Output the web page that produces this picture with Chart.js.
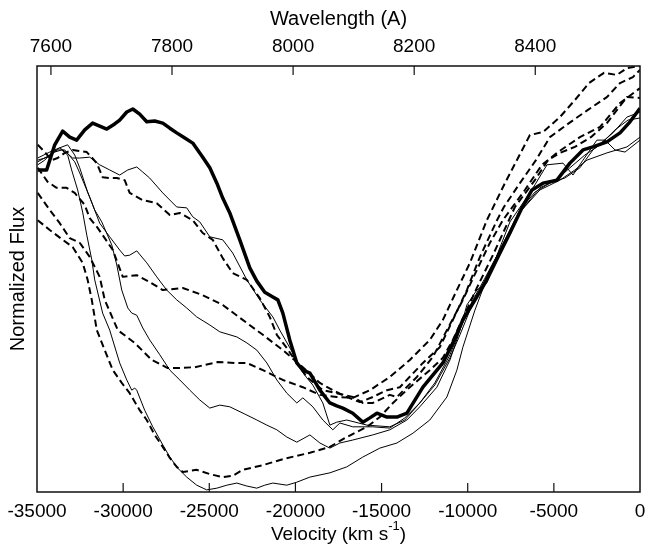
<!DOCTYPE html>
<html>
<head>
<meta charset="utf-8">
<title>Normalized Flux vs Velocity</title>
<script src="https://cdn.jsdelivr.net/npm/chart.js@4.4.1/dist/chart.umd.min.js"></script>
<style>
  html, body { margin: 0; padding: 0; background: #fff; }
  canvas { display: block; }
</style>
</head>
<body>
<canvas id="fluxChart" width="647" height="552"></canvas>
<script>
// tick values of the bottom (velocity) and top (wavelength) axes
const velocityTicks = [-35000, -30000, -25000, -20000, -15000, -10000, -5000, 0];
const wavelengthTicks = [7600, 7800, 8000, 8200, 8400];
// wavelength span that lines up with -35000 .. 0 km/s
const wavelengthRange = [7577, 8573];

// spectra: [velocity (km/s), normalized flux]
const thickSpectrum = [
  [-34960,.756],[-34440,.756],[-33970,.815],[-33510,.847],[-33100,.833],[-32700,.826],[-32230,.850],[-31770,.866],
  [-31360,.859],[-30950,.852],[-30490,.864],[-30200,.873],[-29790,.892],[-29440,.899],[-29040,.887],[-28630,.869],
  [-28170,.871],[-27700,.866],[-27290,.854],[-26890,.843],[-26420,.831],[-25960,.819],[-25380,.786],[-24970,.761],
  [-24560,.725],[-24220,.690],[-23810,.655],[-23230,.592],[-22650,.526],[-22240,.495],[-21780,.469],[-21310,.458],
  [-21020,.451],[-20730,.420],[-20330,.357],[-19920,.303],[-19570,.286],[-19160,.279],[-18580,.239],[-18000,.209],
  [-17600,.202],[-17250,.197],[-16670,.185],[-16090,.164],[-15680,.174],[-15270,.185],[-14690,.176],[-14110,.176],
  [-13530,.185],[-12600,.246],[-11440,.303],[-10860,.350],[-10280,.404],[-9470,.458],[-8890,.498],[-8130,.561],
  [-7550,.608],[-6850,.667],[-6270,.709],[-5630,.725],[-4820,.732],[-4070,.772],[-3310,.803],[-2730,.810],
  [-1920,.822],[-1160,.843],[-580,.869],[0,.901]
];
const thinSpectrumA = [
  [-34960,.768],[-34550,.779],[-34150,.796],[-33680,.808],[-33280,.796],[-32930,.784],[-32520,.784],[-31940,.786],
  [-31360,.768],[-30780,.756],[-30200,.744],[-29730,.756],[-29210,.763],[-28860,.751],[-28460,.737],[-27700,.702],
  [-26890,.669],[-26310,.667],[-25960,.646],[-25550,.634],[-24970,.599],[-24220,.592],[-23640,.561],[-22820,.498],
  [-22070,.451],[-21310,.411],[-20910,.380],[-20150,.326],[-19750,.291],[-19340,.268],[-18990,.251],[-18410,.209],
  [-18000,.157],[-17600,.164],[-17020,.169],[-15850,.157],[-14520,.153],[-13650,.169],[-12780,.209],[-11910,.256],
  [-11030,.322],[-10340,.392],[-9760,.446],[-9000,.502],[-8130,.568],[-6970,.662],[-6100,.704],[-5230,.725],
  [-4360,.737],[-3490,.761],[-2730,.803],[-1570,.843],[-760,.880],[0,.892]
];
const thinSpectrumB = [
  [-34960,.775],[-34260,.791],[-33800,.803],[-33390,.803],[-32810,.775],[-32520,.749],[-31940,.692],[-31360,.631],
  [-30780,.599],[-30200,.568],[-29910,.554],[-29620,.556],[-29210,.566],[-28630,.538],[-28050,.505],[-27470,.474],
  [-26890,.451],[-26310,.432],[-25730,.411],[-24970,.392],[-24390,.376],[-23400,.364],[-22820,.350],[-22240,.333],
  [-21660,.303],[-21080,.263],[-20500,.232],[-19920,.209],[-19570,.221],[-18990,.200],[-18410,.169],[-17830,.146],
  [-17420,.162],[-16670,.153],[-15510,.153],[-14520,.150],[-13650,.174],[-12780,.209],[-11910,.251],[-11030,.315],
  [-10450,.369],[-9870,.427],[-9290,.474],[-8710,.521],[-8130,.568],[-6970,.657],[-5810,.714],[-4880,.732],
  [-4070,.761],[-3200,.791],[-2320,.815],[-1450,.850],[-700,.873],[0,.878]
];
const thinSpectrumC = [
  [-34960,.784],[-34260,.798],[-33680,.808],[-33220,.815],[-32810,.791],[-32520,.761],[-32060,.704],[-31650,.662],
  [-31240,.634],[-30660,.580],[-30370,.533],[-30080,.474],[-29730,.432],[-29500,.420],[-29210,.415],[-28860,.385],
  [-28460,.357],[-27870,.322],[-27290,.286],[-26710,.263],[-26130,.239],[-25550,.216],[-24970,.197],[-24390,.204],
  [-23810,.200],[-22940,.183],[-22240,.169],[-21660,.157],[-21080,.146],[-20500,.129],[-19920,.117],[-19160,.134],
  [-18580,.115],[-18000,.103],[-17420,.115],[-16670,.122],[-15510,.134],[-14520,.146],[-13530,.169],[-12780,.200],
  [-11790,.246],[-11030,.310],[-10450,.380],[-10050,.439],[-9470,.474],[-8890,.491],[-8300,.556],[-7550,.634],
  [-6680,.685],[-6100,.721],[-5400,.768],[-4470,.772],[-3890,.744],[-3310,.779],[-2500,.826],[-2030,.826],
  [-1450,.803],[-870,.798],[0,.826]
];
const thinSpectrumD = [
  [-34960,.779],[-34380,.786],[-33970,.798],[-33570,.803],[-33220,.791],[-32990,.756],[-32640,.709],[-32350,.657],
  [-32110,.603],[-31820,.545],[-31650,.498],[-31190,.420],[-30780,.380],[-30200,.303],[-29790,.263],[-29500,.239],
  [-29330,.244],[-29210,.239],[-28750,.192],[-28280,.153],[-27760,.115],[-27290,.082],[-26830,.056],[-26310,.035],
  [-25730,.016],[-25150,.005],[-24560,.009],[-23980,.016],[-23400,.021],[-22820,.014],[-22240,.009],[-21780,.016],
  [-21310,.021],[-20500,.016],[-19920,.023],[-19160,.035],[-18000,.045],[-17020,.059],[-16090,.082],[-15100,.103],
  [-14110,.115],[-13180,.138],[-12200,.169],[-11210,.223],[-10630,.286],[-10280,.340],[-9580,.427],[-8710,.521],
  [-7840,.592],[-6970,.657],[-5810,.709],[-4650,.732],[-3780,.756],[-3080,.779],[-1920,.796],[-760,.810],[0,.833]
];
const dashedSpectrumA = [
  [-34960,.638],[-34260,.615],[-33510,.592],[-32930,.575],[-32350,.538],[-32060,.498],[-31820,.451],[-31530,.380],
  [-31070,.333],[-30600,.286],[-30080,.256],[-29620,.232],[-29040,.192],[-28630,.169],[-28170,.134],[-27700,.106],
  [-27290,.080],[-26890,.059],[-26540,.047],[-25730,.052],[-24970,.042],[-24220,.035],[-23640,.038],[-23060,.052],
  [-21890,.063],[-20730,.077],[-19920,.085],[-19160,.092],[-18000,.106],[-17020,.129],[-15850,.153],[-15100,.176],
  [-14340,.209],[-13360,.246],[-12200,.286],[-11440,.315],[-10860,.357],[-10280,.408],[-9470,.479],[-8540,.556],
  [-7260,.669],[-6100,.732],[-5340,.779],[-4650,.796],[-3780,.810],[-2850,.833],[-1920,.866],[-760,.927],[0,.925]
];
const dashedSpectrumB = [
  [-34960,.702],[-34260,.662],[-33680,.631],[-33100,.596],[-32520,.585],[-31940,.552],[-31360,.505],[-31070,.451],
  [-30310,.380],[-29330,.350],[-28340,.310],[-27410,.291],[-26830,.291],[-25840,.293],[-24510,.305],[-23520,.303],
  [-22820,.303],[-21890,.286],[-20730,.263],[-19570,.246],[-18580,.228],[-17600,.223],[-16670,.221],[-15680,.239],
  [-14520,.270],[-13360,.310],[-12200,.357],[-11440,.404],[-10630,.474],[-9870,.538],[-8890,.638],[-7840,.725],
  [-6390,.838],[-5630,.845],[-4650,.880],[-3780,.920],[-2960,.960],[-2090,.984],[-1340,.979],[-760,.995],[0,1.0]
];
const dashedSpectrumC = [
  [-34960,.761],[-34380,.728],[-33860,.714],[-33280,.714],[-32810,.702],[-32230,.674],[-31940,.643],[-31480,.620],
  [-31070,.596],[-30600,.568],[-30020,.505],[-29210,.509],[-28460,.493],[-27700,.474],[-26540,.479],[-25380,.462],
  [-24220,.439],[-23060,.404],[-21890,.369],[-20730,.333],[-19570,.293],[-18580,.256],[-17830,.239],[-17020,.223],
  [-16260,.211],[-15510,.223],[-14690,.239],[-13940,.246],[-12600,.303],[-11620,.340],[-10860,.404],[-10050,.474],
  [-9290,.552],[-8300,.638],[-7900,.669],[-6970,.725],[-6040,.779],[-5230,.833],[-4120,.866],[-3020,.897],
  [-1920,.927],[-1160,.960],[-410,.974],[0,.991]
];
const dashedSpectrumD = [
  [-34960,.815],[-34550,.798],[-34150,.779],[-33800,.784],[-33390,.796],[-32930,.803],[-32110,.798],[-31530,.772],
  [-31190,.739],[-30780,.737],[-30370,.737],[-29910,.732],[-29620,.702],[-28860,.685],[-28050,.678],[-27290,.650],
  [-26710,.655],[-25960,.638],[-25380,.608],[-24800,.592],[-24220,.549],[-23640,.514],[-22820,.498],[-22070,.455],
  [-21490,.411],[-21080,.369],[-20500,.338],[-19920,.303],[-19340,.270],[-18410,.239],[-17600,.232],[-16670,.223],
  [-16090,.209],[-15510,.209],[-14520,.228],[-14110,.223],[-12950,.270],[-12020,.317],[-11210,.380],[-10280,.451],
  [-9470,.521],[-8710,.585],[-7960,.638],[-6680,.709],[-5690,.768],[-4760,.798],[-3490,.833],[-2320,.857],
  [-1160,.913],[0,.948]
];

const fontFamily = '"Liberation Sans", Arial, Helvetica, sans-serif';

//turns a list of [velocity, flux] pairs into a chart.js dataset.
function spectrumDataset(points, width, dash) {
  return {
    data: points.map(p => ({ x: p[0], y: p[1] })),
    borderColor: '#000',
    borderWidth: width,
    borderDash: dash,
    borderJoinStyle: 'round',
    pointRadius: 0,
    tension: 0,
    fill: false
  };
}

//keeps the box of a horizontal axis at a fixed height and stops it from pushing the plot inwards.
function fixHorizontalAxis(height) {
  return scale => {
    scale.height = height;
    scale.paddingLeft = 0;
    scale.paddingRight = 0;
  };
}

//draws the box round the plot, the inward tick marks and the velocity title with its superscript.
const frameAndTicks = {
  id: 'frameAndTicks',
  afterDatasetsDraw(chart) {
    const { ctx, chartArea: area, scales } = chart;
    ctx.save();
    ctx.strokeStyle = '#111';
    ctx.lineWidth = 1.5;
    ctx.strokeRect(area.left, area.top, area.right - area.left, area.bottom - area.top);

    ctx.lineWidth = 1.2;
    ctx.beginPath();
    scales.x.ticks.forEach(tick => {
      const px = scales.x.getPixelForValue(tick.value);
      if (px <= area.left + 1 || px >= area.right - 1) return;
      ctx.moveTo(px, area.bottom);
      ctx.lineTo(px, area.bottom - 9);
    });
    scales.x2.ticks.forEach(tick => {
      const px = scales.x2.getPixelForValue(tick.value);
      if (px <= area.left + 1 || px >= area.right - 1) return;
      ctx.moveTo(px, area.top);
      ctx.lineTo(px, area.top + 9);
    });
    ctx.stroke();

    //bottom axis title, written in three pieces so the -1 sits raised
    const mainFont = '19px ' + fontFamily;
    const supFont = '13px ' + fontFamily;
    const partA = 'Velocity (km s';
    const partB = '-1';
    const partC = ')';
    ctx.font = mainFont;
    const widthA = ctx.measureText(partA).width;
    const widthC = ctx.measureText(partC).width;
    ctx.font = supFont;
    const widthB = ctx.measureText(partB).width;
    const titleY = area.bottom + 43;
    let titleX = (area.left + area.right) / 2 - (widthA + widthB + widthC) / 2;
    ctx.fillStyle = '#000';
    ctx.textBaseline = 'middle';
    ctx.textAlign = 'left';
    ctx.font = mainFont;
    ctx.fillText(partA, titleX, titleY);
    titleX += widthA;
    ctx.font = supFont;
    ctx.fillText(partB, titleX, titleY - 9);
    titleX += widthB;
    ctx.font = mainFont;
    ctx.fillText(partC, titleX, titleY);
    ctx.restore();
  }
};

new Chart(document.getElementById('fluxChart'), {
  type: 'line',
  data: {
    datasets: [
      spectrumDataset(thickSpectrum, 3.5, []),
      spectrumDataset(thinSpectrumA, 1, []),
      spectrumDataset(thinSpectrumB, 1, []),
      spectrumDataset(thinSpectrumC, 1, []),
      spectrumDataset(thinSpectrumD, 1, []),
      spectrumDataset(dashedSpectrumA, 2, [7, 4]),
      spectrumDataset(dashedSpectrumB, 2, [7, 4]),
      spectrumDataset(dashedSpectrumC, 2, [7, 4]),
      spectrumDataset(dashedSpectrumD, 2, [7, 4])
    ]
  },
  options: {
    responsive: false,
    animation: false,
    layout: { padding: { left: 0, right: 7, top: 0, bottom: 0 } },
    plugins: {
      legend: { display: false },
      tooltip: { enabled: false }
    },
    scales: {
      x: {
        type: 'linear',
        position: 'bottom',
        min: velocityTicks[0],
        max: velocityTicks[velocityTicks.length - 1],
        afterBuildTicks: scale => { scale.ticks = velocityTicks.map(v => ({ value: v })); },
        afterFit: fixHorizontalAxis(60),
        grid: { display: false, drawTicks: false },
        border: { display: false },
        ticks: {
          padding: 8,
          color: '#000',
          autoSkip: false,
          maxRotation: 0,
          font: { family: fontFamily, size: 19 },
          callback: value => String(value)
        }
      },
      x2: {
        type: 'linear',
        position: 'top',
        min: wavelengthRange[0],
        max: wavelengthRange[1],
        afterBuildTicks: scale => { scale.ticks = wavelengthTicks.map(v => ({ value: v })); },
        afterFit: fixHorizontalAxis(66),
        grid: { display: false, drawTicks: false },
        border: { display: false },
        ticks: {
          padding: 8,
          color: '#000',
          autoSkip: false,
          maxRotation: 0,
          font: { family: fontFamily, size: 19 },
          callback: value => String(value)
        },
        title: {
          display: true,
          text: 'Wavelength (A)',
          color: '#000',
          padding: { top: 7, bottom: 0 },
          font: { family: fontFamily, size: 20 }
        }
      },
      y: {
        min: 0,
        max: 1,
        afterFit: scale => { scale.width = 37; },
        grid: { display: false, drawTicks: false },
        border: { display: false },
        ticks: { display: false },
        title: {
          display: true,
          text: 'Normalized Flux',
          color: '#000',
          padding: { top: 6, bottom: 0 },
          font: { family: fontFamily, size: 20 }
        }
      }
    }
  },
  plugins: [frameAndTicks]
});
</script>
</body>
</html>
